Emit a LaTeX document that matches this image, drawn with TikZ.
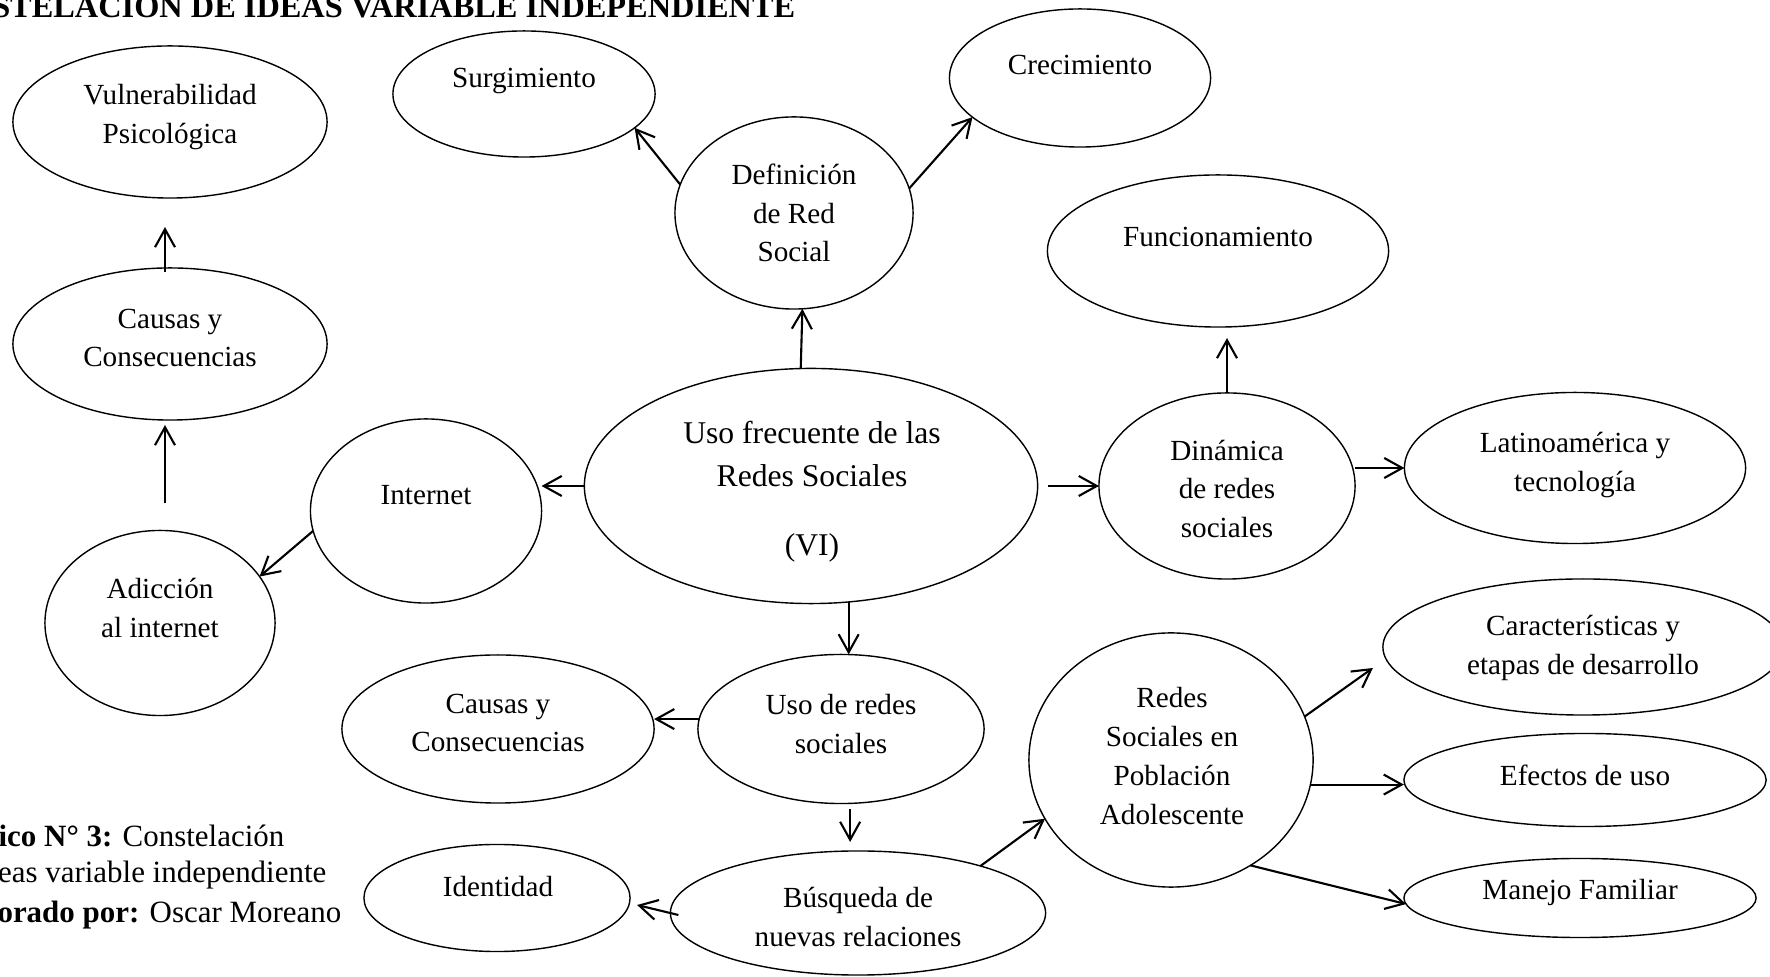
\documentclass[tikz,border=0pt]{standalone}
\usepackage{fontspec}
\setmainfont{Liberation Serif}
\usetikzlibrary{calc}
\usetikzlibrary{shapes.geometric}
\usetikzlibrary{arrows.meta}

\begin{document}
\begin{tikzpicture}[x=0.01cm, y=-0.01cm,
    idea/.style={draw, ellipse, line width=0.4pt, inner sep=0pt, outer sep=0pt},
    txt/.style={align=center, inner sep=0pt, font=\fontsize{8.3}{11}\selectfont},
    arr/.style={line width=0.6pt, -{Straight Barb[length=0.18cm, width=0.2cm]}}]
    \useasboundingbox (0,0) rectangle (1770,977);

    %title and caption
    \node[anchor=base east, inner sep=0pt, font=\fontsize{9.2}{11}\selectfont\bfseries] (title) at (796,18) {STELACION DE IDEAS VARIABLE INDEPENDIENTE};
    \node[anchor=base east, inner sep=0pt, font=\fontsize{8.8}{11}\selectfont] (cap1) at (285,847) {\textbf{ico N° 3:} Constelación};
    \node[anchor=base east, inner sep=0pt, font=\fontsize{8.8}{11}\selectfont] (cap2) at (327,883) {eas variable independiente};
    \node[anchor=base east, inner sep=0pt, font=\fontsize{8.8}{11}\selectfont] (cap3) at (342,923) {\textbf{orado por:} Oscar Moreano};

    %left column
    \node[idea, minimum width=3.14cm, minimum height=1.52cm] (vuln) at (170,122) {};
    \node[txt] (vulnT) at (170,117) {Vulnerabilidad\\Psicológica};
    \node[idea, minimum width=3.14cm, minimum height=1.52cm] (causasA) at (170,344) {};
    \node[txt] (causasAT) at (170,338) {Causas y\\Consecuencias};
    \node[idea, minimum width=2.30cm, minimum height=1.85cm] (adic) at (160,623) {};
    \node[txt] (adicT) at (160,608) {Adicción\\al internet};
    \node[idea, minimum width=2.31cm, minimum height=1.84cm] (internet) at (426,511) {};
    \node[txt] (internetT) at (426,495) {Internet};

    %top
    \node[idea, minimum width=2.62cm, minimum height=1.26cm] (surg) at (524,94) {};
    \node[txt] (surgT) at (524,81) {Surgimiento};
    \node[idea, minimum width=2.38cm, minimum height=1.92cm] (def) at (794,213) {};
    \node[txt] (defT) at (794,213) {Definición\\de Red\\Social};
    \node[idea, minimum width=2.61cm, minimum height=1.38cm] (crec) at (1080,78) {};
    \node[txt] (crecT) at (1080,65) {Crecimiento};
    \node[idea, minimum width=3.41cm, minimum height=1.52cm] (func) at (1218,251) {};
    \node[txt] (funcT) at (1218,237) {Funcionamiento};

    %center
    \node[idea, minimum width=4.53cm, minimum height=2.35cm] (main) at (811,486) {};
    \node[txt, font=\fontsize{9}{12.1}\selectfont] (mainT) at (812,492) {Uso frecuente de las\\Redes Sociales\\[7.6pt](VI)};
    \node[idea, minimum width=2.56cm, minimum height=1.86cm] (din) at (1227,486) {};
    \node[txt] (dinT) at (1227,489) {Dinámica\\de redes\\sociales};
    \node[idea, minimum width=3.41cm, minimum height=1.51cm] (latino) at (1575,468) {};
    \node[txt] (latinoT) at (1575,465) {Latinoamérica y\\tecnología};

    %bottom
    \node[idea, minimum width=3.12cm, minimum height=1.48cm] (causasB) at (498,729) {};
    \node[txt] (causasBT) at (498,723) {Causas y\\Consecuencias};
    \node[idea, minimum width=2.86cm, minimum height=1.49cm] (uso) at (841,729) {};
    \node[txt] (usoT) at (841,724) {Uso de redes\\sociales};
    \node[idea, minimum width=2.66cm, minimum height=1.07cm] (ident) at (497,898) {};
    \node[txt] (identT) at (498,887) {Identidad};
    \node[idea, minimum width=3.75cm, minimum height=1.24cm] (busq) at (858,913) {};
    \node[txt] (busqT) at (858,917) {Búsqueda de\\nuevas relaciones};
    \node[idea, minimum width=2.84cm, minimum height=2.54cm] (redes) at (1171,760) {};
    \node[txt] (redesT) at (1172,756) {Redes\\Sociales en\\Población\\Adolescente};
    \node[idea, minimum width=4.00cm, minimum height=1.36cm] (caract) at (1583,647) {};
    \node[txt] (caractT) at (1583,648) {Características y\\etapas de desarrollo};
    \node[idea, minimum width=3.62cm, minimum height=0.93cm] (efectos) at (1585,780) {};
    \node[txt] (efectosT) at (1585,775) {Efectos de uso};
    \node[idea, minimum width=3.52cm, minimum height=0.79cm] (manejo) at (1580,898) {};
    \node[txt] (manejoT) at (1580,892) {Manejo Familiar};

    %arrows
    \draw[arr] ($(causasA.north)+(-5,4)$) -- ($(vuln.south)+(-5,29)$);
    \draw[arr] ($(adic.north)+(5,-27)$) -- ($(causasA.south)+(-5,5)$);
    \draw[arr] (internet.190) -- (adic.25);
    \draw[arr] (main.west) -- (main.west -| internet.east);
    \draw[arr] (main.95) -- (def.275);
    \draw[arr] (def.166) -- (surg.-17);
    \draw[arr] (def.12) -- (crec.200);
    \draw[arr, shorten >=0.11cm] (din.north) -- (din.north |- func.south);
    \draw[arr, shorten <=0.1cm] (main.east) -- (din.west);
    \draw[arr] (latino.west -| din.east) -- (latino.west);
    \draw[arr] (main.-72) -- (main.-72 |- uso.north);
    \draw[arr] (uso.176) -- (uso.176 -| causasB.east);
    \draw[arr, shorten <=0.06cm, shorten >=0.09cm] (uso.-83) -- (uso.-83 |- busq.north);
    \draw[arr] ($(busq.west)+(8,2)$) -- ($(ident.east)+(7,7)$);
    \draw[arr] (busq.21) -- (redes.205);
    \draw[arr] (redes.18) -- ($(caract.west)+(-10,21)$);
    \draw[arr] (redes.-10) -- (redes.-10 -| efectos.west);
    \draw[arr] (redes.-53) -- (manejo.182);
\end{tikzpicture}
\end{document}
